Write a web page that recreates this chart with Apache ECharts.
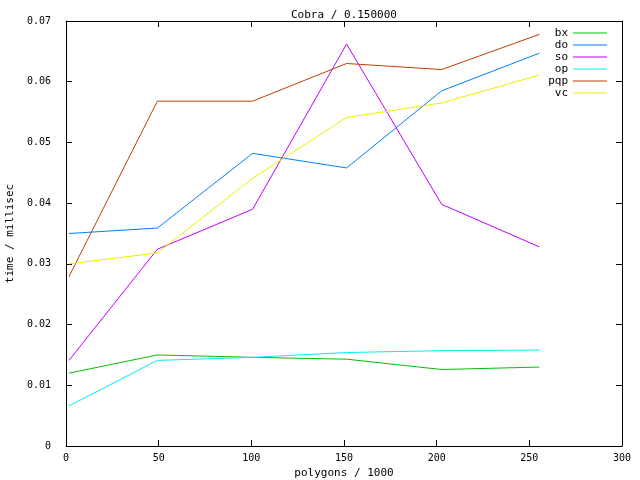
<!DOCTYPE html>
<html>
<head>
<meta charset="utf-8">
<script src="https://cdn.jsdelivr.net/npm/echarts@6/dist/echarts.min.js"></script>
<style>html,body{margin:0;padding:0;background:#fff}#c{width:640px;height:480px}</style>
</head>
<body>
<div id="c"></div>
<script>
const xValues = [1.6, 49.3, 100.7, 151.4, 202.7, 255.4];
const seriesNames = ['bx', 'do', 'so', 'op', 'pqp', 'vc'];
const bx  = [0.0120, 0.0150, 0.0146, 0.0143, 0.0126, 0.0130];
const dO  = [0.0350, 0.0359, 0.0482, 0.0458, 0.0585, 0.0647];
const so  = [0.0141, 0.0324, 0.0390, 0.0662, 0.0398, 0.0328];
const op  = [0.0066, 0.0141, 0.0146, 0.0154, 0.0157, 0.0158];
const pqp = [0.0279, 0.0568, 0.0568, 0.0630, 0.0620, 0.0678];
const vc  = [0.0300, 0.0318, 0.0441, 0.0541, 0.0565, 0.0611];
const seriesValues = [bx, dO, so, op, pqp, vc];
const colors = ['#00c000', '#0080ff', '#c000ff', '#00eeee', '#c04000', '#eeee00'];
const xTicks = [0, 50, 100, 150, 200, 250, 300];
const yTicks = [0, 0.01, 0.02, 0.03, 0.04, 0.05, 0.06, 0.07];

const FONT = 'DejaVu Sans Mono';
const chart = echarts.init(document.getElementById('c'), null, {renderer: 'canvas'});
const axisLineStyle = {color: '#000', width: 1};
const tickStyle = {show: true, inside: true, length: 6, lineStyle: axisLineStyle};
chart.setOption({
  animation: false,
  backgroundColor: '#fff',
  title: {
    text: 'Cobra / 0.150000',
    left: 286, top: 5,
    textStyle: {fontFamily: FONT, fontSize: 11, fontWeight: 'normal', color: '#000'}
  },
  legend: {
    orient: 'vertical',
    right: 28, top: 22,
    align: 'right',
    icon: 'rect',
    itemWidth: 34, itemHeight: 1, itemGap: 0,
    data: seriesNames,
    textStyle: {fontFamily: FONT, fontSize: 11, color: '#000', lineHeight: 12, height: 12}
  },
  grid: {left: 66, right: 18, top: 21, bottom: 34, containLabel: false, outerBoundsMode: 'none'},
  xAxis: [{
    type: 'value', min: 0, max: 300, interval: 50,
    name: 'polygons / 1000', nameLocation: 'middle', nameGap: 21,
    nameTextStyle: {fontFamily: FONT, fontSize: 11, color: '#000'},
    axisLine: {show: true, onZero: false, lineStyle: axisLineStyle},
    axisTick: tickStyle,
    axisLabel: {fontFamily: FONT, fontSize: 10, color: '#000', margin: 7,
      customValues: xTicks, formatter: v => String(v)},
    splitLine: {show: false}
  }, {
    type: 'value', min: 0, max: 300, interval: 50, position: 'top',
    axisLine: {show: true, onZero: false, lineStyle: axisLineStyle},
    axisTick: tickStyle,
    axisLabel: {show: false}, splitLine: {show: false}
  }],
  yAxis: [{
    type: 'value', min: 0, max: 0.07, interval: 0.01,
    name: 'time / millisec', nameLocation: 'middle', nameGap: 49, nameRotate: 90,
    nameTextStyle: {fontFamily: FONT, fontSize: 11, color: '#000'},
    axisLine: {show: true, onZero: false, lineStyle: axisLineStyle},
    axisTick: tickStyle,
    axisLabel: {fontFamily: FONT, fontSize: 10, color: '#000', margin: 15,
      customValues: yTicks, formatter: v => String(+v.toFixed(2))},
    splitLine: {show: false}
  }, {
    type: 'value', min: 0, max: 0.07, interval: 0.01, position: 'right',
    axisLine: {show: true, onZero: false, lineStyle: axisLineStyle},
    axisTick: tickStyle,
    axisLabel: {show: false}, splitLine: {show: false}
  }],
  series: seriesNames.map((n, i) => ({
    name: n,
    type: 'line',
    xAxisIndex: 0, yAxisIndex: 0,
    symbol: 'none',
    color: colors[i],
    itemStyle: {color: colors[i]},
    lineStyle: {color: colors[i], width: 1},
    data: xValues.map((x, j) => [x, seriesValues[i][j]])
  }))
});
</script>
</body>
</html>
